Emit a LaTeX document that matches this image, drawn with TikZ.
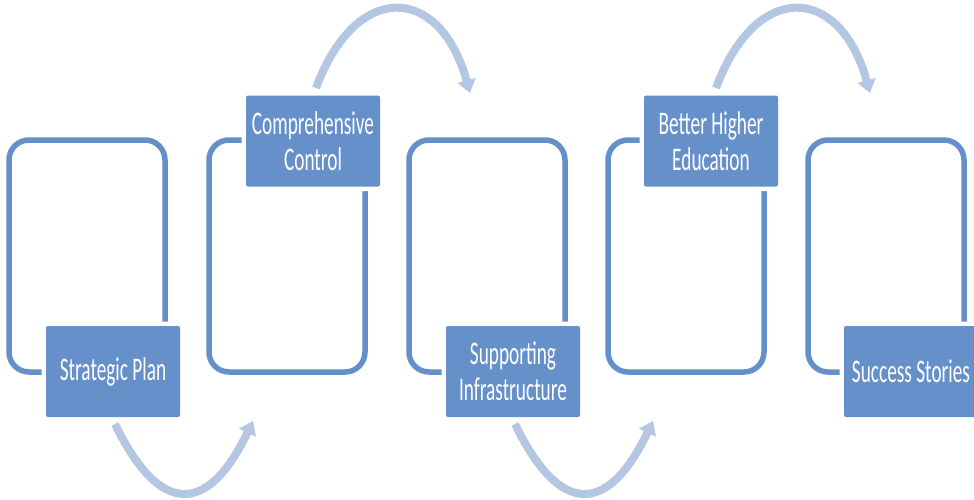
\documentclass[tikz,border=0pt]{standalone}
\usepackage{fontspec}
\newfontfamily\stepfont[FakeStretch=0.585]{Carlito}
\usetikzlibrary{arrows.meta}
\definecolor{frameblue}{HTML}{6490CA}
\definecolor{boxblue}{HTML}{6690CA}
\definecolor{bendblue}{HTML}{B4C7E2}

\begin{document}
\begin{tikzpicture}[x=1pt, y=-1pt,
	loopframe/.style={draw=frameblue, line width=5.5pt, rounded corners=20pt, minimum width=156pt, minimum height=232pt, inner sep=0pt},
	stepbox/.style={fill=boxblue, rounded corners=2pt, preaction={draw=white, line width=9pt}, minimum width=134pt, minimum height=91pt, inner sep=0pt, text=white, align=center, font=\stepfont\fontsize{33}{36}\selectfont},
	bendarrow/.style={draw=bendblue, line width=8pt, -{Triangle[length=13pt, width=18pt]}}]
				\useasboundingbox (0, 0) rectangle (974, 499);
				\node[loopframe] (FA)at(87, 256) {};
				\node[loopframe] (FB)at(287, 256) {};
				\node[loopframe] (FC)at(487, 256) {};
				\node[loopframe] (FD)at(686, 256) {};
				\node[loopframe] (FE)at(886, 256) {};
				\node[stepbox] (A)at(113, 371.5) {Strategic Plan};
				\node[stepbox] (B)at(313, 141) {Comprehensive\\Control};
				\node[stepbox] (C)at(513, 371.5) {Supporting\\Infrastructure};
				\node[stepbox] (D)at(711, 141) {Better Higher\\Education};
				\node[stepbox] (E)at(911, 371.5) {Success Stories};
				\coordinate (SA)at(115, 424);
				\coordinate (TA)at(253, 421);
				\coordinate (SB)at(316, 88);
				\coordinate (TB)at(470, 93);
				\coordinate (SC)at(515, 424);
				\coordinate (TC)at(653, 421);
				\coordinate (SD)at(716, 88);
				\coordinate (TD)at(870, 93);
				\draw[bendarrow] (SA) .. controls (160, 517) and (208, 515) .. (TA);
				\draw[bendarrow] (SB) .. controls (356, -20) and (440, -16) .. (TB);
				\draw[bendarrow] (SC) .. controls (560, 517) and (608, 515) .. (TC);
				\draw[bendarrow] (SD) .. controls (756, -20) and (840, -16) .. (TD);
\end{tikzpicture}
\end{document}
